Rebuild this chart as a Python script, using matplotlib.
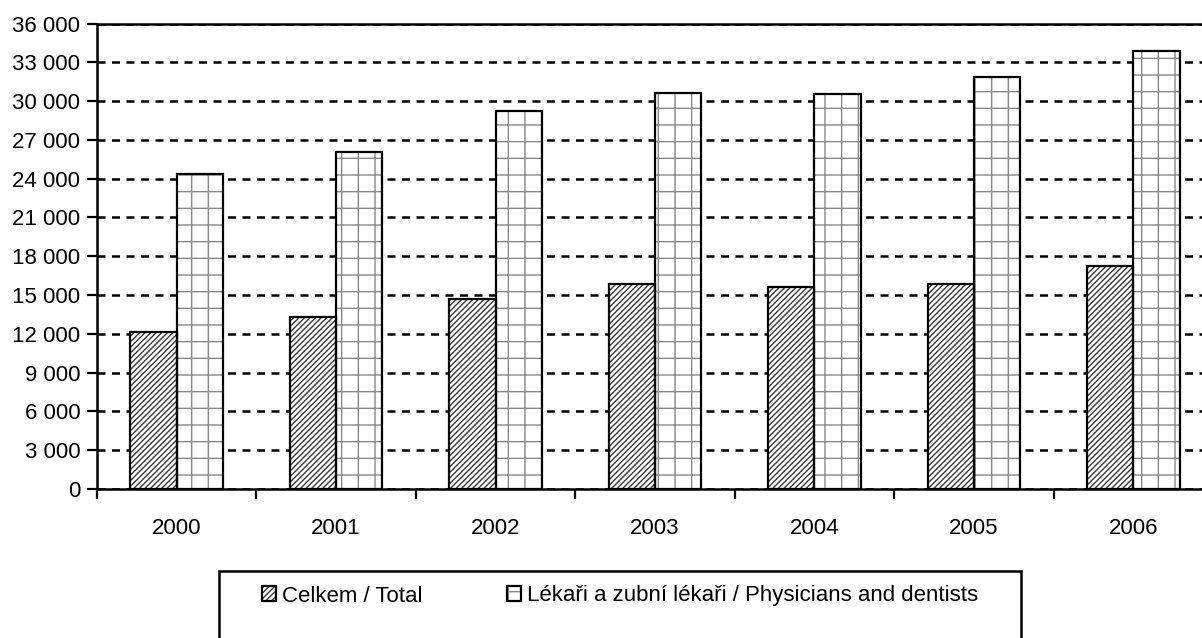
import numpy as np
import matplotlib
matplotlib.use('Agg')
import matplotlib.pyplot as plt
from matplotlib.patches import Rectangle
from matplotlib.ticker import FuncFormatter, MultipleLocator

# Data
years = ['2000', '2001', '2002', '2003', '2004', '2005', '2006']
celkem = [12130, 13340, 14730, 15870, 15620, 15850, 17210]
lekari = [24390, 26070, 29270, 30630, 30530, 31870, 33910]
labels = ['Celkem / Total', 'Lékaři a zubní lékaři / Physicians and dentists']

plt.rcParams['font.family'] = ['Liberation Sans', 'DejaVu Sans']
plt.rcParams['hatch.linewidth'] = 1.0

W, H = 1202, 638
fig = plt.figure(figsize=(W / 100, H / 100), dpi=100)
ax = fig.add_axes([97 / W, 1 - 489 / H, 1116 / W, (489 - 23.5) / H])

x = np.arange(len(years))
bw = 0.29

# hatch layer (hatch takes the edge colour), then a black outline on top
h1 = ax.bar(x - bw / 2, celkem, bw, facecolor='white', edgecolor='#3a3a3a',
            linewidth=0, hatch='//////', zorder=3)
h2 = ax.bar(x + bw / 2, lekari, bw, facecolor='white', edgecolor='#8a8a8a',
            linewidth=0, hatch='+', zorder=3)
e1 = ax.bar(x - bw / 2, celkem, bw, facecolor='none', edgecolor='black',
            linewidth=1.6, zorder=4)
e2 = ax.bar(x + bw / 2, lekari, bw, facecolor='none', edgecolor='black',
            linewidth=1.6, zorder=4)

ax.set_xlim(-0.5, len(years) - 0.5)
ax.set_ylim(0, 36000)
ax.yaxis.set_major_locator(MultipleLocator(3000))
ax.yaxis.set_major_formatter(FuncFormatter(lambda v, p: f'{int(v):,}'.replace(',', ' ')))

# dashed horizontal gridlines
ax.yaxis.grid(True, color='black', linewidth=1.8, linestyle=(0, (3.2, 2.6)))
ax.set_axisbelow(True)

# category labels at centres, tick marks at boundaries
ax.set_xticks(x)
ax.set_xticklabels(years)
ax.set_xticks(np.arange(-0.5, len(years), 1.0), minor=True)
ax.tick_params(axis='x', which='major', length=0, pad=21, labelsize=16)
ax.tick_params(axis='x', which='minor', length=7, width=1.6, direction='out')
ax.tick_params(axis='y', length=7, width=1.6, direction='out', pad=5, labelsize=16)

for s in ['left', 'bottom', 'top']:
    ax.spines[s].set_linewidth(1.8)
ax.spines['right'].set_visible(False)

# legend with box running off the bottom edge
fig.add_artist(Rectangle((219 / W, -20 / H), (1021 - 219) / W, (638 - 571 + 20) / H,
                         transform=fig.transFigure, facecolor='white',
                         edgecolor='black', linewidth=1.8))
fig.legend(handles=[(h1[0], e1[0]), (h2[0], e2[0])], labels=labels, loc='center',
           bbox_to_anchor=(620 / W, 1 - 596 / H), ncol=2, frameon=False,
           fontsize=16, handlelength=0.65, handleheight=0.65, handletextpad=0.25,
           columnspacing=3.8)

fig.savefig('out.png', dpi=100)
